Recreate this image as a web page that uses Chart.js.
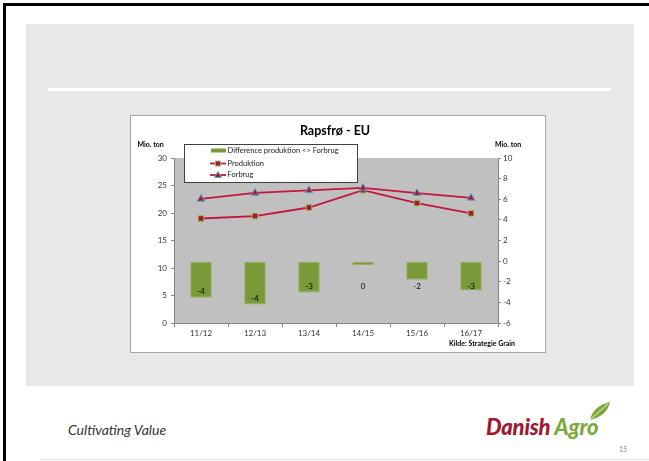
<!DOCTYPE html>
<html><head><meta charset="utf-8">
<script src="https://cdn.jsdelivr.net/npm/chart.js@4.4.1/dist/chart.umd.min.js"></script>
<style>
html,body{margin:0;padding:0;background:#fff;width:649px;height:461px;overflow:hidden;font-family:Lato,"Liberation Sans",sans-serif;position:relative}
#bt{position:absolute;left:3px;top:3px;width:646px;height:3px;background:#000}
#bl{position:absolute;left:3px;top:3px;width:3px;height:458px;background:#000}
#gray{position:absolute;left:26px;top:24px;width:608px;height:362px;background:#e8e8e8}
#wline{position:absolute;left:48px;top:88px;width:563px;height:3px;background:#fff}
#box{position:absolute;left:130px;top:115px;width:414px;height:236px;border:1px solid #a6a6a6;background:#fff}
#box canvas{position:absolute;left:0;top:0}
#cv{position:absolute;left:68px;top:421px;font-size:14px;font-style:italic;color:#333}
#logo{position:absolute;left:486px;top:413px;font-size:22px;font-weight:900;font-style:italic;letter-spacing:-0.2px;white-space:nowrap}
#logo .d{color:#a1182f}#logo .a{color:#80a93b}
#leaf{position:absolute;left:586px;top:400px}
#pn{position:absolute;left:619px;top:445px;font-size:7px;color:#888}
#bline{position:absolute;left:40px;top:459px;width:609px;height:1px;background:#e6e6e6}
</style></head>
<body>
<div id="bt"></div><div id="bl"></div>
<div id="gray"></div><div id="wline"></div>
<div id="box"><canvas id="c" width="414" height="236"></canvas></div>
<div id="cv">Cultivating Value</div>
<div id="logo"><span class="d">Danish</span> <span class="a">Agro</span></div>
<svg id="leaf" width="26" height="22" viewBox="0 0 26 22"><path d="M4 20 C6 10 14 4 24 2 C22 12 14 18 4 20 Z" fill="#80a93b"/><path d="M4 20 C10 14 16 9 22 4" stroke="#fff" stroke-width="0.8" fill="none"/></svg>
<div id="pn">15</div>
<div id="bline"></div>
<script>
const categories = ['11/12','12/13','13/14','14/15','15/16','16/17'];
const produktion = [19.0, 19.45, 21.0, 24.15, 21.8, 19.95];
const forbrug = [22.55, 23.65, 24.1, 24.55, 23.6, 22.75];
const difference = [-3.55, -4.2, -3.05, -0.4, -1.8, -2.85];
const leftTicks = {min:0, max:30, step:5};
const rightTicks = {min:-6, max:10, step:2};

const FONT = 'Lato, "Liberation Sans", sans-serif';
Chart.defaults.font.family = FONT;

const deco = {
  id:'deco',
  beforeDraw(chart){
    const {ctx, chartArea:a} = chart;
    ctx.save();
    ctx.fillStyle = '#c0c0c0';
    ctx.fillRect(a.left, a.top, a.right-a.left, a.bottom-a.top);
    ctx.restore();
  },
  afterDatasetsDraw(chart){
    const ctx = chart.ctx;
    const meta = chart.getDatasetMeta(0);
    const y1 = chart.scales.y1;
    ctx.save();
    ctx.font = '8px ' + FONT;
    ctx.fillStyle = '#000';
    ctx.textAlign = 'center';
    ctx.textBaseline = 'middle';
    meta.data.forEach((bar, i) => {
      const v = difference[i];
      let t = Math.round(v); if (Object.is(t,-0)) t = 0;
      ctx.fillText(String(t), bar.x, y1.getPixelForValue(Math.min(v+0.6, -2.5)));
    });
    ctx.restore();
  },
  afterDraw(chart){
    const ctx = chart.ctx;
    ctx.save();
    ctx.fillStyle = '#000';
    ctx.textBaseline = 'middle';
    ctx.textAlign = 'center';
    ctx.font = 'bold 12.5px ' + FONT;
    ctx.fillText('Rapsfrø - EU', 204, 15);
    ctx.font = 'bold 7px ' + FONT;
    ctx.textAlign = 'left';
    ctx.fillText('Mio. ton', 6.5, 28.5);
    ctx.fillText('Mio. ton', 364, 28.5);
    ctx.textAlign = 'right';
    ctx.fillText('Kilde: Strategie Grain', 384, 227.5);
    const lx = 53.5, ly = 28.5, lw = 173, lh = 38;
    ctx.fillStyle = '#fff';
    ctx.fillRect(lx, ly, lw, lh);
    ctx.strokeStyle = '#404040'; ctx.lineWidth = 1;
    ctx.strokeRect(lx, ly, lw, lh);
    const ds = chart.data.datasets;
    const rows = [34.5, 47.5, 59];
    ctx.font = '7.5px ' + FONT;
    ctx.textAlign = 'left';
    ctx.textBaseline = 'middle';
    ctx.fillStyle = ds[0].backgroundColor;
    ctx.fillRect(80, rows[0]-2, 15, 4);
    ctx.fillStyle = '#222';
    ctx.fillText(ds[0].label, 96.5, rows[0]);
    for (let k = 1; k <= 2; k++) {
      const y = rows[k];
      ctx.strokeStyle = ds[k].borderColor; ctx.lineWidth = 1.8;
      ctx.beginPath(); ctx.moveTo(79, y); ctx.lineTo(95, y); ctx.stroke();
      ctx.fillStyle = ds[k].pointBackgroundColor;
      ctx.strokeStyle = ds[k].pointBorderColor; ctx.lineWidth = 1;
      if (k === 1) {
        ctx.fillRect(84.5, y-2.5, 5, 5); ctx.strokeRect(84.5, y-2.5, 5, 5);
      } else {
        ctx.beginPath(); ctx.moveTo(87, y-3.5); ctx.lineTo(90.5, y+2.5); ctx.lineTo(83.5, y+2.5); ctx.closePath(); ctx.fill(); ctx.stroke();
      }
      ctx.fillStyle = '#222';
      ctx.fillText(ds[k].label, 96.5, y);
    }
    ctx.restore();
  }
};

new Chart(document.getElementById('c'), {
  data: {
    labels: categories,
    datasets: [
      {type:'bar', label:'Difference produktion <> Forbrug', data: difference, yAxisID:'y1',
       backgroundColor:'#7a9a3a', borderColor:'#93b356', borderWidth:1, borderSkipped:false,
       barPercentage:0.4, categoryPercentage:1, order:3},
      {type:'line', label:'Produktion', data: produktion, yAxisID:'y',
       borderColor:'#c5143f', borderWidth:1.8, tension:0, pointStyle:'rect', pointRadius:4,
       pointBackgroundColor:'#a3172f', pointBorderColor:'#9bbb59', pointBorderWidth:1, order:2},
      {type:'line', label:'Forbrug', data: forbrug, yAxisID:'y',
       borderColor:'#c5143f', borderWidth:1.8, tension:0, pointStyle:'triangle', pointRadius:4.5,
       pointBackgroundColor:'#b3163a', pointBorderColor:'#4bacc6', pointBorderWidth:1, order:1}
    ]
  },
  options: {
    responsive:false, animation:false, devicePixelRatio:1,
    layout:{padding:{top:42,left:0,right:0,bottom:0}},
    plugins:{legend:{display:false}, title:{display:false}, tooltip:{enabled:false}},
    scales:{
      x:{ offset:true,
        grid:{offset:true, drawOnChartArea:false, drawTicks:true, tickLength:4, color:'#868686'},
        border:{color:'#868686'},
        ticks:{font:{size:8}, color:'#333', padding:2, maxRotation:0},
        afterFit(s){ s.height = 29; } },
      y:{ position:'left', min:leftTicks.min, max:leftTicks.max,
        ticks:{stepSize:leftTicks.step, font:{size:8}, color:'#333', padding:4},
        grid:{drawOnChartArea:false, tickLength:3, color:'#868686'},
        border:{color:'#868686'},
        afterFit(s){ s.width = 43; } },
      y1:{ position:'right', min:rightTicks.min, max:rightTicks.max,
        ticks:{stepSize:rightTicks.step, font:{size:8}, color:'#333', padding:2},
        grid:{drawOnChartArea:false, tickLength:3, color:'#868686'},
        border:{color:'#868686'},
        afterFit(s){ s.width = 47; } }
    }
  },
  plugins:[deco]
});
</script>
</body></html>
